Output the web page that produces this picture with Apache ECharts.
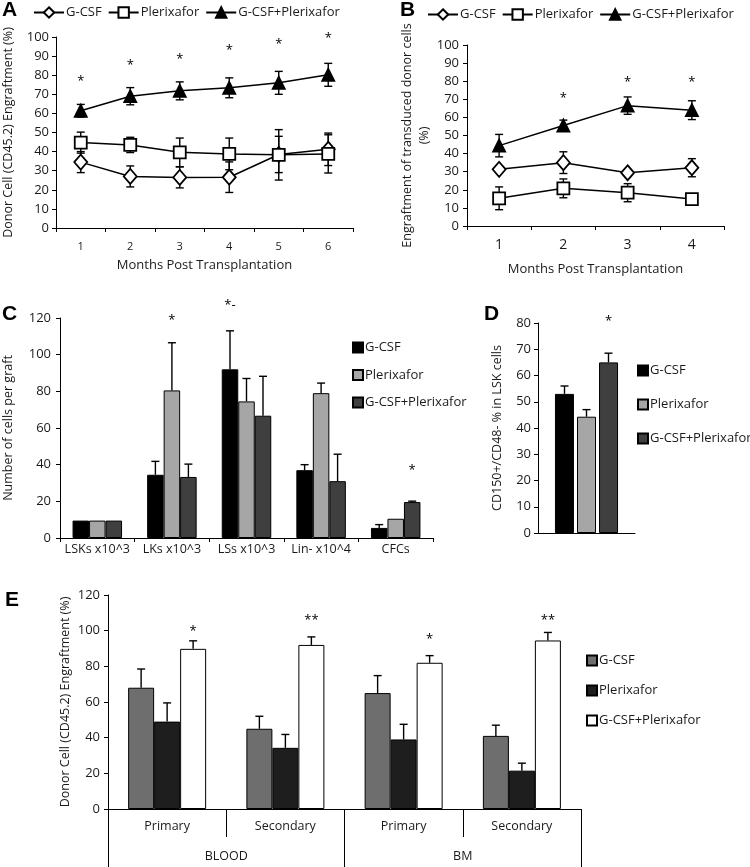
<!DOCTYPE html>
<html>
<head>
<meta charset="utf-8">
<script src="https://cdn.jsdelivr.net/npm/echarts@6/dist/echarts.min.js"></script>
<style>
  html, body { margin: 0; background: #fff; }
  #chart { width: 750px; height: 867px; }
</style>
</head>
<body>
<div id="chart"></div>
<script>
// panel A - engraftment over months
const aMonths = ['1', '2', '3', '4', '5', '6'];
const aGcsf = [34.5, 27, 26.5, 26.6, 38.5, 41.2];
const aGcsfErr = [5.5, 5.5, 5.5, 8, 9.5, 8.5];
const aPlerix = [44.7, 43.5, 39.6, 38.8, 38.3, 38.8];
const aPlerixErr = [5.5, 4, 7.5, 8.3, 13.2, 10];
const aCombo = [61.4, 69, 71.8, 73.4, 76, 80.2];
const aComboErr = [3.3, 4.5, 4.7, 5.2, 6, 6];
const aStarY = [77, 85, 88.5, 93, 96, 99.5];

// panel B - transduced donor cells
const bMonths = ['1', '2', '3', '4'];
const bGcsf = [31.3, 35, 29.4, 32.2];
const bGcsfErr = [1.5, 6, 1.3, 5];
const bPlerix = [15.3, 20.8, 18.4, 14.9];
const bPlerixErr = [6.3, 5.2, 5, 1];
const bCombo = [44.4, 55.5, 66.5, 64];
const bComboErr = [6.2, 3, 4.8, 5.2];
const bStarCat = [1, 2, 3];
const bStarY = [70.5, 79.5, 79.5];

// panel C - cells per graft
const cCats = ['LSKs x10^3', 'LKs x10^3', 'LSs x10^3', 'Lin- x10^4', 'CFCs'];
const cGcsf = [9.5, 34.5, 92, 37, 5.5];
const cGcsfErr = [0, 7.3, 21, 3, 1.8];
const cPlerix = [9.5, 80.5, 74.5, 79, 10.5];
const cPlerixErr = [0, 26, 12.5, 5.5, 0];
const cCombo = [9.5, 33.3, 66.7, 31, 19.6];
const cComboErr = [0, 7, 21.5, 14.7, 0.5];
const cStarCat = [1, 2, 4];
const cStarY = [119, 127, 37];
const cStarBar = [0, -1, 1];
const cStarText = ['*', '*-', '*'];

// panel D - CD150+/CD48- in LSK
const dCats = [''];
const dGcsf = [53], dGcsfErr = [3];
const dPlerix = [44.3], dPlerixErr = [2.7];
const dCombo = [65], dComboErr = [3.5];
const dStarY = [80.5];

// panel E - primary / secondary engraftment
const eCats = ['Primary', 'Secondary', 'Primary', 'Secondary'];
const eTissue = ['BLOOD', 'BM'];
const eGcsf = [68, 45, 65, 41];
const eGcsfErr = [10.5, 7, 9.8, 6];
const ePlerix = [49, 34.3, 39, 21.5];
const ePlerixErr = [10.5, 7.5, 8.5, 4.2];
const eCombo = [89.8, 92, 82, 94.5];
const eComboErr = [4.5, 4.5, 4, 4.5];
const eStarCat = [0, 1, 2, 3];
const eStarY = [99.5, 106, 95, 106];
const eStarText = ['*', '**', '*', '**'];

const FONT = 'Open Sans';
const TXT = '#1a1a1a';
const strip = n => n.split('|')[1];

function valAxis(grid, max, step, name, gap, size, margin) {
  return {
    type: 'value', gridIndex: grid, min: 0, max: max, interval: step,
    name: name, nameLocation: 'middle', nameGap: gap, nameMoveOverlap: false,
    nameTextStyle: {fontSize: 12.5, color: TXT, fontFamily: FONT, lineHeight: 17},
    axisLine: {show: true, lineStyle: {color: '#000', width: 1}},
    axisTick: {show: true, length: 4, lineStyle: {color: '#000'}},
    axisLabel: {fontSize: size, color: TXT, fontFamily: FONT, margin: margin},
    splitLine: {show: false}
  };
}

function catAxis(grid, data, size, margin, tickLen) {
  return {
    type: 'category', gridIndex: grid, data: data, position: 'bottom',
    axisLine: {show: true, onZero: false, lineStyle: {color: '#000', width: 1}},
    axisTick: {show: tickLen > 0, length: tickLen, interval: 0, lineStyle: {color: '#000'}},
    axisLabel: {fontSize: size, color: TXT, fontFamily: FONT, margin: margin, interval: 0},
    splitLine: {show: false}
  };
}

function lineSeries(grid, name, vals, symbol, size, fill) {
  return {
    type: 'line', name: name, xAxisIndex: grid, yAxisIndex: grid, data: vals,
    symbol: symbol, symbolSize: size, showAllSymbol: true, z: 5,
    lineStyle: {color: '#000', width: 1.5},
    itemStyle: {color: fill, borderColor: '#000', borderWidth: 1.8}
  };
}

function barSeries(xi, yi, name, vals, color, width, gap) {
  return {
    type: 'bar', name: name, xAxisIndex: xi, yAxisIndex: yi, data: vals,
    barWidth: width, barGap: gap, z: 2,
    itemStyle: {color: color, borderColor: '#000', borderWidth: 1}
  };
}

// error bars: one sided for bars, two sided for the line charts
function errSeries(xi, yi, vals, errs, shift, twoSided, cap) {
  return {
    type: 'custom', xAxisIndex: xi, yAxisIndex: yi, silent: true, z: 4,
    data: vals.map((v, i) => [i, twoSided ? v - errs[i] : v, v + errs[i]]),
    renderItem: function (params, api) {
      if (api.value(2) - api.value(1) <= 0.01) return;
      const x = api.coord([api.value(0), 0])[0] + shift;
      const lo = api.coord([api.value(0), api.value(1)])[1];
      const hi = api.coord([api.value(0), api.value(2)])[1];
      const st = {stroke: '#000', lineWidth: 1.4};
      const kids = [
        {type: 'line', shape: {x1: x, y1: lo, x2: x, y2: hi}, style: st},
        {type: 'line', shape: {x1: x - cap, y1: hi, x2: x + cap, y2: hi}, style: st}
      ];
      if (twoSided) kids.push({type: 'line', shape: {x1: x - cap, y1: lo, x2: x + cap, y2: lo}, style: st});
      return {type: 'group', children: kids};
    }
  };
}

function starSeries(xi, yi, cats, ys, texts, shifts, size) {
  return {
    type: 'custom', xAxisIndex: xi, yAxisIndex: yi, silent: true, z: 6,
    data: cats.map((c, i) => [c, ys[i]]),
    renderItem: function (params, api) {
      const p = api.coord([api.value(0), api.value(1)]);
      return {
        type: 'text', x: p[0] + shifts[params.dataIndex], y: p[1],
        style: {text: texts[params.dataIndex], fontSize: size, fontFamily: FONT, fill: '#000',
                align: 'center', verticalAlign: 'middle'}
      };
    }
  };
}

function vLegend(key, left, top, gap) {
  return {
    data: [key + '|G-CSF', key + '|Plerixafor', key + '|G-CSF+Plerixafor'],
    left: left, top: top, orient: 'vertical', icon: 'rect', padding: 0,
    itemWidth: 10, itemHeight: 10, itemGap: gap, formatter: strip, selectedMode: false,
    textStyle: {fontSize: 13, color: TXT, padding: [0, 0, 0, -3]}
  };
}

function hLegend(key, left, top) {
  return {
    data: [key + '|G-CSF', key + '|Plerixafor', key + '|G-CSF+Plerixafor'],
    left: left, top: top, padding: 0, itemWidth: 30, itemHeight: 13,
    itemGap: 6, formatter: strip, selectedMode: false,
    textStyle: {fontSize: 13, color: TXT, padding: [0, 0, 0, -3]}
  };
}

const ones = n => new Array(n).fill(0);
const C1 = '#000000', C2 = '#a6a6a6', C3 = '#3f3f3f';
const E1 = '#6e6e6e', E2 = '#1e1e1e', E3 = '#ffffff';

const option = {
  animation: false,
  textStyle: {fontFamily: FONT, color: TXT},
  grid: [
    {left: 56, top: 37, width: 297, height: 191, outerBoundsMode: 'none'},
    {left: 467, top: 45, width: 257, height: 181, outerBoundsMode: 'none'},
    {left: 60, top: 318, width: 373, height: 220, outerBoundsMode: 'none'},
    {left: 538, top: 323, width: 97, height: 210, outerBoundsMode: 'none'},
    {left: 108, top: 595, width: 473, height: 214, outerBoundsMode: 'none'}
  ],
  xAxis: [
    Object.assign(catAxis(0, aMonths, 11, 13, 4), {name: 'Months Post Transplantation', nameLocation: 'middle', nameGap: 31,
      nameMoveOverlap: false, nameTextStyle: {fontSize: 13, color: TXT, fontFamily: FONT}}),
    Object.assign(catAxis(1, bMonths, 14, 12, 4), {name: 'Months Post Transplantation', nameLocation: 'middle', nameGap: 37,
      nameMoveOverlap: false, nameTextStyle: {fontSize: 13, color: TXT, fontFamily: FONT}}),
    catAxis(2, cCats, 12.5, 5, 4),
    Object.assign(catAxis(3, dCats, 12, 5, 0), {axisLabel: {show: false}}),
    catAxis(4, eCats, 12.5, 11, 28),
    {
      type: 'category', gridIndex: 4, data: eTissue, position: 'bottom',
      axisLine: {show: false},
      axisTick: {show: true, length: 58, interval: 0, lineStyle: {color: '#000'}},
      axisLabel: {fontSize: 12.5, color: TXT, fontFamily: FONT, margin: 41, interval: 0},
      splitLine: {show: false}
    }
  ],
  yAxis: [
    valAxis(0, 100, 10, 'Donor Cell (CD45.2) Engraftment (%)', 39, 13, 7),
    valAxis(1, 100, 10, 'Engraftment of transduced donor cells\n(%)', 34, 13, 8),
    valAxis(2, 120, 20, 'Number of cells per graft', 43, 13, 9),
    valAxis(3, 80, 10, 'CD150+/CD48- % in LSK cells', 32, 13, 7),
    valAxis(4, 120, 20, 'Donor Cell (CD45.2) Engraftment (%)', 34, 13, 8)
  ],
  legend: [
    hLegend('A', 33, 6),
    hLegend('B', 427, 8),
    vLegend('C', 352, 341, 14.5),
    vLegend('D', 637, 364, 21),
    vLegend('E', 586, 654, 17)
  ],
  graphic: ['A', 'B', 'C', 'D', 'E'].map((t, i) => ({
    type: 'text', left: [2, 400, 2, 484, 5][i], top: [0, 0, 304, 304, 590][i],
    style: {text: t, fontSize: 21, fontWeight: 'bold', fontFamily: 'Liberation Sans', fill: '#000'}
  })),
  series: [
    // A
    errSeries(0, 0, aGcsf, aGcsfErr, 0, true, 4),
    errSeries(0, 0, aPlerix, aPlerixErr, 0, true, 4),
    errSeries(0, 0, aCombo, aComboErr, 0, true, 4),
    lineSeries(0, 'A|G-CSF', aGcsf, 'diamond', [13, 15], '#fff'),
    lineSeries(0, 'A|Plerixafor', aPlerix, 'rect', 12, '#fff'),
    lineSeries(0, 'A|G-CSF+Plerixafor', aCombo, 'triangle', 12, '#000'),
    starSeries(0, 0, aMonths.map((m, i) => i), aStarY, aStarY.map(() => '*'), ones(6), 13),
    // B
    errSeries(1, 1, bGcsf, bGcsfErr, 0, true, 4),
    errSeries(1, 1, bPlerix, bPlerixErr, 0, true, 4),
    errSeries(1, 1, bCombo, bComboErr, 0, true, 4),
    lineSeries(1, 'B|G-CSF', bGcsf, 'diamond', [13, 15], '#fff'),
    lineSeries(1, 'B|Plerixafor', bPlerix, 'rect', 12, '#fff'),
    lineSeries(1, 'B|G-CSF+Plerixafor', bCombo, 'triangle', 12, '#000'),
    starSeries(1, 1, bStarCat, bStarY, bStarY.map(() => '*'), ones(3), 13),
    // C
    barSeries(2, 2, 'C|G-CSF', cGcsf, C1, 16.5, '0%'),
    barSeries(2, 2, 'C|Plerixafor', cPlerix, C2, 16.5, '0%'),
    barSeries(2, 2, 'C|G-CSF+Plerixafor', cCombo, C3, 16.5, '0%'),
    errSeries(2, 2, cGcsf, cGcsfErr, -16.5, false, 4),
    errSeries(2, 2, cPlerix, cPlerixErr, 0, false, 4),
    errSeries(2, 2, cCombo, cComboErr, 16.5, false, 4),
    starSeries(2, 2, cStarCat, cStarY, cStarText, cStarBar.map(b => b * 16.5), 13),
    // D
    barSeries(3, 3, 'D|G-CSF', dGcsf, C1, 19, '16%'),
    barSeries(3, 3, 'D|Plerixafor', dPlerix, C2, 19, '16%'),
    barSeries(3, 3, 'D|G-CSF+Plerixafor', dCombo, C3, 19, '16%'),
    errSeries(3, 3, dGcsf, dGcsfErr, -22, false, 4),
    errSeries(3, 3, dPlerix, dPlerixErr, 0, false, 4),
    errSeries(3, 3, dCombo, dComboErr, 22, false, 4),
    starSeries(3, 3, [0], dStarY, ['*'], [22], 13),
    // E
    barSeries(4, 4, 'E|G-CSF', eGcsf, E1, 26, '0%'),
    barSeries(4, 4, 'E|Plerixafor', ePlerix, E2, 26, '0%'),
    barSeries(4, 4, 'E|G-CSF+Plerixafor', eCombo, E3, 26, '0%'),
    errSeries(4, 4, eGcsf, eGcsfErr, -26, false, 4),
    errSeries(4, 4, ePlerix, ePlerixErr, 0, false, 4),
    errSeries(4, 4, eCombo, eComboErr, 26, false, 4),
    starSeries(4, 4, eStarCat, eStarY, eStarText, ones(4).map(() => 26), 13)
  ]
};

const chart = echarts.init(document.getElementById('chart'), null, {renderer: 'canvas'});
chart.setOption(option);
</script>
</body>
</html>
